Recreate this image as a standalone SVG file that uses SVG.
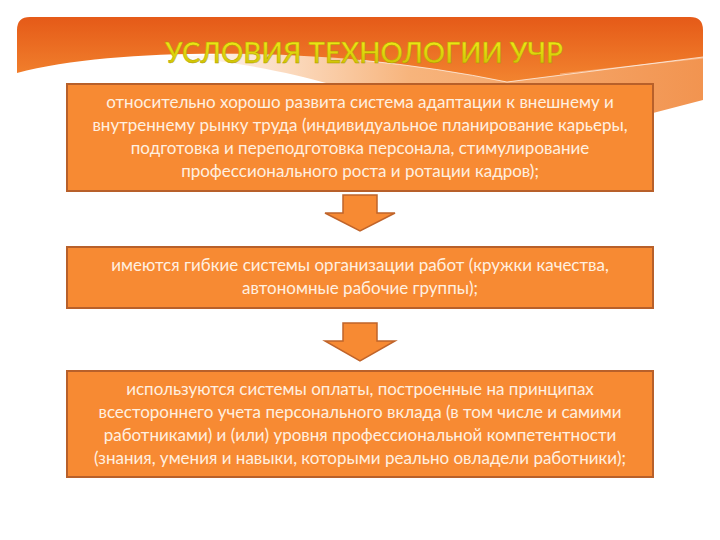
<svg xmlns="http://www.w3.org/2000/svg" width="720" height="540" viewBox="0 0 720 540">
<defs>
<linearGradient id="hdr" x1="0" y1="0" x2="0" y2="1">
<stop offset="0" stop-color="#e55a18"/>
<stop offset="1" stop-color="#f2842f"/>
</linearGradient>
<linearGradient id="peach" x1="170" y1="0" x2="703" y2="0" gradientUnits="userSpaceOnUse">
<stop offset="0" stop-color="#ffffff"/>
<stop offset="0.45" stop-color="#f7b47c"/>
<stop offset="1" stop-color="#f29450"/>
</linearGradient>
<linearGradient id="ttl" x1="0" y1="0" x2="0" y2="1">
<stop offset="0" stop-color="#f6f21a"/>
<stop offset="1" stop-color="#c9bb00"/>
</linearGradient>
<style>
.box{fill:#f78a33;stroke:#b8602a;stroke-width:2}
.arr{fill:#f78a33;stroke:#c0642a;stroke-width:1.5;stroke-linejoin:miter}
.t{font-family:"Lato","Open Sans","Noto Sans",sans-serif;font-size:17px;fill:#fff0e0;text-anchor:middle}
</style>
</defs>
<g id="header">
<path d="M180,57 C240,62 295,74 330,84 L653,113 L703,100 L703,45 L360,45 Z" fill="url(#peach)"/>
<path d="M17,73 V30 Q17,17 30,17 H690 Q703,17 703,30 V57 L507,82 Q440,68 360,60 C250,50 100,50 17,73 Z" fill="url(#hdr)"/>
<path d="M360,60 Q440,68 507,82 L703,57" fill="none" stroke="#fff" stroke-width="0.8" opacity="0.85"/>
<path d="M560,74 L703,58" fill="none" stroke="#fff" stroke-width="0.6" opacity="0.6"/>
<text x="364" y="63" font-family="Lato,'Open Sans',sans-serif" font-size="28" font-weight="600" fill="url(#ttl)" stroke="#a89600" stroke-width="0.4" text-anchor="middle" textLength="398" lengthAdjust="spacingAndGlyphs">УСЛОВИЯ ТЕХНОЛОГИИ УЧР</text>
</g>
<g id="connectors">
<path class="arr" d="M343,195 H377 V213 H395 L360,231 L325,213 H343 Z"/>
<path class="arr" d="M343,323 H377 V341 H395 L360,361 L325,341 H343 Z"/>
</g>
<g id="box1">
<rect class="box" x="67" y="84" width="586" height="107"/>
<text class="t" x="360" y="108">относительно хорошо развита система адаптации к внешнему и</text>
<text class="t" x="360" y="131">внутреннему рынку труда (индивидуальное планирование карьеры,</text>
<text class="t" x="360" y="154">подготовка и переподготовка персонала, стимулирование</text>
<text class="t" x="360" y="177">профессионального роста и ротации кадров);</text>
</g>
<g id="box2">
<rect class="box" x="67" y="247" width="586" height="61"/>
<text class="t" x="360" y="271">имеются гибкие системы организации работ (кружки качества,</text>
<text class="t" x="360" y="294">автономные рабочие группы);</text>
</g>
<g id="box3">
<rect class="box" x="67" y="371" width="586" height="106"/>
<text class="t" x="360" y="395">используются системы оплаты, построенные на принципах</text>
<text class="t" x="360" y="418">всестороннего учета персонального вклада (в том числе и самими</text>
<text class="t" x="360" y="441">работниками) и (или) уровня профессиональной компетентности</text>
<text class="t" x="360" y="464">(знания, умения и навыки, которыми реально овладели работники);</text>
</g>
</svg>
